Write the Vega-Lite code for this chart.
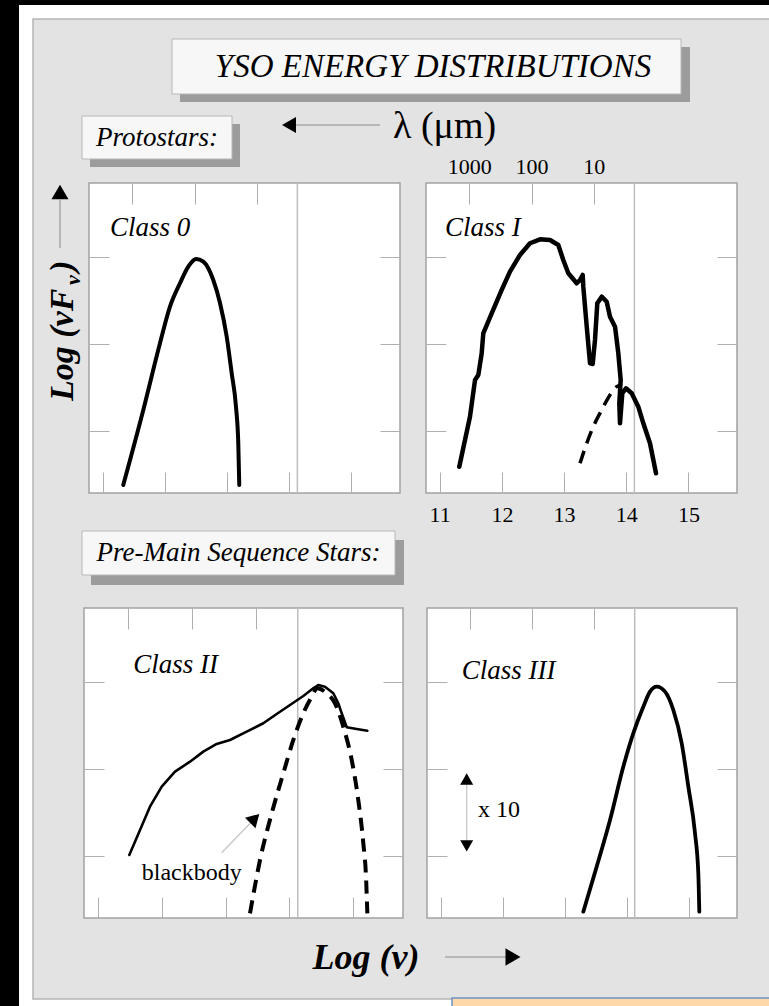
{
  "$schema": "https://vega.github.io/schema/vega-lite/v6.json",
  "width": 769,
  "height": 1006,
  "padding": 0,
  "autosize": {"type": "none"},
  "background": "white",
  "config": {
    "view": {"stroke": null},
    "font": "Liberation Serif",
    "axis": {"domain": false, "grid": false, "tickColor": "#b0b0b0", "tickWidth": 1, "labelFont": "Liberation Serif", "labelFontSize": 22, "labelColor": "#000000", "labelFlush": false}
  },
  "data": {"values": [{}]},
  "datasets": {
    "class0": [
      {"i": 1, "logNu": 11.331, "logNuFnu": -0.628},
      {"i": 2, "logNu": 11.653, "logNuFnu": 0.238},
      {"i": 3, "logNu": 11.921, "logNuFnu": 1.009},
      {"i": 4, "logNu": 12.082, "logNuFnu": 1.432},
      {"i": 5, "logNu": 12.243, "logNuFnu": 1.702},
      {"i": 6, "logNu": 12.376, "logNuFnu": 1.894},
      {"i": 7, "logNu": 12.5, "logNuFnu": 1.983},
      {"i": 8, "logNu": 12.618, "logNuFnu": 1.951},
      {"i": 9, "logNu": 12.778, "logNuFnu": 1.74},
      {"i": 10, "logNu": 12.886, "logNuFnu": 1.475},
      {"i": 11, "logNu": 12.994, "logNuFnu": 1.085},
      {"i": 12, "logNu": 13.074, "logNuFnu": 0.663},
      {"i": 13, "logNu": 13.143, "logNuFnu": 0.277},
      {"i": 14, "logNu": 13.18, "logNuFnu": -0.146},
      {"i": 15, "logNu": 13.196, "logNuFnu": -0.628}
    ],
    "class1": [
      {"series": "observed", "i": 1, "logNu": 11.315, "logNuFnu": -0.416},
      {"series": "observed", "i": 2, "logNu": 11.407, "logNuFnu": -0.108},
      {"series": "observed", "i": 3, "logNu": 11.487, "logNuFnu": 0.161},
      {"series": "observed", "i": 4, "logNu": 11.568, "logNuFnu": 0.585},
      {"series": "observed", "i": 5, "logNu": 11.621, "logNuFnu": 0.643},
      {"series": "observed", "i": 6, "logNu": 11.675, "logNuFnu": 0.893},
      {"series": "observed", "i": 7, "logNu": 11.701, "logNuFnu": 1.124},
      {"series": "observed", "i": 8, "logNu": 11.836, "logNuFnu": 1.355},
      {"series": "observed", "i": 9, "logNu": 11.997, "logNuFnu": 1.625},
      {"series": "observed", "i": 10, "logNu": 12.13, "logNuFnu": 1.836},
      {"series": "observed", "i": 11, "logNu": 12.291, "logNuFnu": 2.029},
      {"series": "observed", "i": 12, "logNu": 12.452, "logNuFnu": 2.164},
      {"series": "observed", "i": 13, "logNu": 12.613, "logNuFnu": 2.21},
      {"series": "observed", "i": 14, "logNu": 12.774, "logNuFnu": 2.202},
      {"series": "observed", "i": 15, "logNu": 12.907, "logNuFnu": 2.144},
      {"series": "observed", "i": 16, "logNu": 12.987, "logNuFnu": 1.971},
      {"series": "observed", "i": 17, "logNu": 13.068, "logNuFnu": 1.818},
      {"series": "observed", "i": 18, "logNu": 13.203, "logNuFnu": 1.702},
      {"series": "observed", "i": 19, "logNu": 13.256, "logNuFnu": 1.74},
      {"series": "observed", "i": 20, "logNu": 13.299, "logNuFnu": 1.798},
      {"series": "observed", "i": 21, "logNu": 13.309, "logNuFnu": 1.663},
      {"series": "observed", "i": 22, "logNu": 13.364, "logNuFnu": 1.201},
      {"series": "observed", "i": 23, "logNu": 13.417, "logNuFnu": 0.778},
      {"series": "observed", "i": 24, "logNu": 13.46, "logNuFnu": 0.77},
      {"series": "observed", "i": 25, "logNu": 13.497, "logNuFnu": 1.047},
      {"series": "observed", "i": 26, "logNu": 13.534, "logNuFnu": 1.471},
      {"series": "observed", "i": 27, "logNu": 13.605, "logNuFnu": 1.547},
      {"series": "observed", "i": 28, "logNu": 13.685, "logNuFnu": 1.489},
      {"series": "observed", "i": 29, "logNu": 13.738, "logNuFnu": 1.316},
      {"series": "observed", "i": 30, "logNu": 13.819, "logNuFnu": 1.201},
      {"series": "observed", "i": 31, "logNu": 13.872, "logNuFnu": 0.893},
      {"series": "observed", "i": 32, "logNu": 13.91, "logNuFnu": 0.585},
      {"series": "observed", "i": 33, "logNu": 13.888, "logNuFnu": 0.316},
      {"series": "observed", "i": 34, "logNu": 13.899, "logNuFnu": 0.085},
      {"series": "observed", "i": 35, "logNu": 13.936, "logNuFnu": 0.432},
      {"series": "observed", "i": 36, "logNu": 13.995, "logNuFnu": 0.489},
      {"series": "observed", "i": 37, "logNu": 14.087, "logNuFnu": 0.432},
      {"series": "observed", "i": 38, "logNu": 14.193, "logNuFnu": 0.277},
      {"series": "observed", "i": 39, "logNu": 14.274, "logNuFnu": 0.085},
      {"series": "observed", "i": 40, "logNu": 14.381, "logNuFnu": -0.146},
      {"series": "observed", "i": 41, "logNu": 14.478, "logNuFnu": -0.492},
      {"series": "blackbody", "i": 1, "logNu": 13.256, "logNuFnu": -0.377},
      {"series": "blackbody", "i": 2, "logNu": 13.364, "logNuFnu": -0.146},
      {"series": "blackbody", "i": 3, "logNu": 13.47, "logNuFnu": 0.046},
      {"series": "blackbody", "i": 4, "logNu": 13.605, "logNuFnu": 0.239},
      {"series": "blackbody", "i": 5, "logNu": 13.738, "logNuFnu": 0.412},
      {"series": "blackbody", "i": 6, "logNu": 13.846, "logNuFnu": 0.508},
      {"series": "blackbody", "i": 7, "logNu": 13.926, "logNuFnu": 0.527}
    ],
    "class2": [
      {"series": "observed", "i": 1, "logNu": 11.49, "logNuFnu": 0.008},
      {"series": "observed", "i": 2, "logNu": 11.658, "logNuFnu": 0.296},
      {"series": "observed", "i": 3, "logNu": 11.814, "logNuFnu": 0.566},
      {"series": "observed", "i": 4, "logNu": 11.998, "logNuFnu": 0.797},
      {"series": "observed", "i": 5, "logNu": 12.206, "logNuFnu": 0.97},
      {"series": "observed", "i": 6, "logNu": 12.441, "logNuFnu": 1.085},
      {"series": "observed", "i": 7, "logNu": 12.65, "logNuFnu": 1.201},
      {"series": "observed", "i": 8, "logNu": 12.86, "logNuFnu": 1.29},
      {"series": "observed", "i": 9, "logNu": 13.068, "logNuFnu": 1.336},
      {"series": "observed", "i": 10, "logNu": 13.33, "logNuFnu": 1.432},
      {"series": "observed", "i": 11, "logNu": 13.59, "logNuFnu": 1.529},
      {"series": "observed", "i": 12, "logNu": 13.8, "logNuFnu": 1.636},
      {"series": "observed", "i": 13, "logNu": 14.009, "logNuFnu": 1.74},
      {"series": "observed", "i": 14, "logNu": 14.217, "logNuFnu": 1.844},
      {"series": "observed", "i": 15, "logNu": 14.374, "logNuFnu": 1.933},
      {"series": "observed", "i": 16, "logNu": 14.452, "logNuFnu": 1.971},
      {"series": "observed", "i": 17, "logNu": 14.557, "logNuFnu": 1.951},
      {"series": "observed", "i": 18, "logNu": 14.688, "logNuFnu": 1.875},
      {"series": "observed", "i": 19, "logNu": 14.766, "logNuFnu": 1.76},
      {"series": "observed", "i": 20, "logNu": 14.819, "logNuFnu": 1.644},
      {"series": "observed", "i": 21, "logNu": 14.898, "logNuFnu": 1.483},
      {"series": "observed", "i": 22, "logNu": 15.054, "logNuFnu": 1.463},
      {"series": "observed", "i": 23, "logNu": 15.221, "logNuFnu": 1.443},
      {"series": "blackbody", "i": 1, "logNu": 13.382, "logNuFnu": -0.666},
      {"series": "blackbody", "i": 2, "logNu": 13.539, "logNuFnu": -0.05},
      {"series": "blackbody", "i": 3, "logNu": 13.722, "logNuFnu": 0.489},
      {"series": "blackbody", "i": 4, "logNu": 13.904, "logNuFnu": 0.951},
      {"series": "blackbody", "i": 5, "logNu": 14.061, "logNuFnu": 1.336},
      {"series": "blackbody", "i": 6, "logNu": 14.217, "logNuFnu": 1.644},
      {"series": "blackbody", "i": 7, "logNu": 14.349, "logNuFnu": 1.836},
      {"series": "blackbody", "i": 8, "logNu": 14.437, "logNuFnu": 1.933},
      {"series": "blackbody", "i": 9, "logNu": 14.584, "logNuFnu": 1.875},
      {"series": "blackbody", "i": 10, "logNu": 14.714, "logNuFnu": 1.76},
      {"series": "blackbody", "i": 11, "logNu": 14.844, "logNuFnu": 1.49},
      {"series": "blackbody", "i": 12, "logNu": 14.976, "logNuFnu": 1.105},
      {"series": "blackbody", "i": 13, "logNu": 15.079, "logNuFnu": 0.643},
      {"series": "blackbody", "i": 14, "logNu": 15.158, "logNuFnu": 0.143},
      {"series": "blackbody", "i": 15, "logNu": 15.2, "logNuFnu": -0.243},
      {"series": "blackbody", "i": 16, "logNu": 15.221, "logNuFnu": -0.666}
    ],
    "class3": [
      {"i": 1, "logNu": 13.301, "logNuFnu": -0.647},
      {"i": 2, "logNu": 13.517, "logNuFnu": -0.127},
      {"i": 3, "logNu": 13.732, "logNuFnu": 0.412},
      {"i": 4, "logNu": 13.946, "logNuFnu": 1.027},
      {"i": 5, "logNu": 14.107, "logNuFnu": 1.413},
      {"i": 6, "logNu": 14.269, "logNuFnu": 1.72},
      {"i": 7, "logNu": 14.377, "logNuFnu": 1.894},
      {"i": 8, "logNu": 14.485, "logNuFnu": 1.951},
      {"i": 9, "logNu": 14.619, "logNuFnu": 1.894},
      {"i": 10, "logNu": 14.753, "logNuFnu": 1.682},
      {"i": 11, "logNu": 14.888, "logNuFnu": 1.298},
      {"i": 12, "logNu": 14.995, "logNuFnu": 0.797},
      {"i": 13, "logNu": 15.103, "logNuFnu": 0.258},
      {"i": 14, "logNu": 15.156, "logNuFnu": -0.204},
      {"i": 15, "logNu": 15.172, "logNuFnu": -0.647}
    ]
  },
  "resolve": {"scale": {"x": "independent", "y": "independent"}},
  "layer": [
    {
      "layer": [
        {"mark": {"type": "rect", "fill": "#000000"},
         "encoding": {"x": {"datum": 0, "type": "quantitative", "scale": {"domain": [0, 769], "range": [0, 769], "nice": false, "zero": false}, "axis": null}, "x2": {"datum": 19},
                      "y": {"datum": 0, "type": "quantitative", "scale": {"domain": [0, 1006], "range": [0, 1006], "nice": false, "zero": false}, "axis": null}, "y2": {"datum": 1006}}},
        {"mark": {"type": "rect", "fill": "#000000"},
         "encoding": {"x": {"datum": 0, "type": "quantitative", "axis": null}, "x2": {"datum": 769}, "y": {"datum": 0, "type": "quantitative", "axis": null}, "y2": {"datum": 5}}},
        {"mark": {"type": "rect", "fill": "#e3e3e3", "stroke": "#b5b5b5", "strokeWidth": 1.5},
         "encoding": {"x": {"datum": 33, "type": "quantitative", "axis": null}, "x2": {"datum": 775}, "y": {"datum": 19, "type": "quantitative", "axis": null}, "y2": {"datum": 999}}},
        {"mark": {"type": "rect", "fill": "#fdd9a9", "stroke": "#6d93c7", "strokeWidth": 1.5},
         "encoding": {"x": {"datum": 452, "type": "quantitative", "axis": null}, "x2": {"datum": 780}, "y": {"datum": 998, "type": "quantitative", "axis": null}, "y2": {"datum": 1012}}},
        {"mark": {"type": "rect", "fill": "#9c9c9c"},
         "encoding": {"x": {"datum": 180, "type": "quantitative", "axis": null}, "x2": {"datum": 690}, "y": {"datum": 47, "type": "quantitative", "axis": null}, "y2": {"datum": 102}}},
        {"mark": {"type": "rect", "fill": "#f7f7f7", "stroke": "#b8b8b8", "strokeWidth": 1},
         "encoding": {"x": {"datum": 172, "type": "quantitative", "axis": null}, "x2": {"datum": 681}, "y": {"datum": 39, "type": "quantitative", "axis": null}, "y2": {"datum": 94}}},
        {"mark": {"type": "text", "font": "Liberation Serif", "fontSize": 33, "fontStyle": "italic", "align": "center", "baseline": "middle", "color": "#000000"},
         "encoding": {"x": {"datum": 433, "type": "quantitative", "axis": null}, "y": {"datum": 67, "type": "quantitative", "axis": null}, "text": {"value": "YSO ENERGY DISTRIBUTIONS"}}},
        {"mark": {"type": "rect", "fill": "#9c9c9c"},
         "encoding": {"x": {"datum": 90, "type": "quantitative", "axis": null}, "x2": {"datum": 240}, "y": {"datum": 124, "type": "quantitative", "axis": null}, "y2": {"datum": 167}}},
        {"mark": {"type": "rect", "fill": "#f7f7f7", "stroke": "#b8b8b8", "strokeWidth": 1},
         "encoding": {"x": {"datum": 82, "type": "quantitative", "axis": null}, "x2": {"datum": 232}, "y": {"datum": 116, "type": "quantitative", "axis": null}, "y2": {"datum": 159}}},
        {"mark": {"type": "text", "font": "Liberation Serif", "fontSize": 27, "fontStyle": "italic", "align": "center", "baseline": "middle", "color": "#000000"},
         "encoding": {"x": {"datum": 157, "type": "quantitative", "axis": null}, "y": {"datum": 138, "type": "quantitative", "axis": null}, "text": {"value": "Protostars:"}}},
        {"mark": {"type": "rect", "fill": "#9c9c9c"},
         "encoding": {"x": {"datum": 91, "type": "quantitative", "axis": null}, "x2": {"datum": 404}, "y": {"datum": 540, "type": "quantitative", "axis": null}, "y2": {"datum": 585}}},
        {"mark": {"type": "rect", "fill": "#f7f7f7", "stroke": "#b8b8b8", "strokeWidth": 1},
         "encoding": {"x": {"datum": 82, "type": "quantitative", "axis": null}, "x2": {"datum": 395}, "y": {"datum": 531, "type": "quantitative", "axis": null}, "y2": {"datum": 575}}},
        {"mark": {"type": "text", "font": "Liberation Serif", "fontSize": 27, "fontStyle": "italic", "align": "center", "baseline": "middle", "color": "#000000"},
         "encoding": {"x": {"datum": 238.5, "type": "quantitative", "axis": null}, "y": {"datum": 553, "type": "quantitative", "axis": null}, "text": {"value": "Pre-Main Sequence Stars:"}}},
        {"mark": {"type": "rule", "color": "#8c8c8c", "strokeWidth": 1},
         "encoding": {"x": {"datum": 296, "type": "quantitative", "axis": null}, "x2": {"datum": 380}, "y": {"datum": 125, "type": "quantitative", "axis": null}}},
        {"mark": {"type": "point", "shape": "triangle-left", "filled": true, "color": "#000000", "size": 260, "opacity": 1},
         "encoding": {"x": {"datum": 289, "type": "quantitative", "axis": null}, "y": {"datum": 125, "type": "quantitative", "axis": null}}},
        {"mark": {"type": "text", "font": "Liberation Serif", "fontSize": 38, "align": "left", "baseline": "middle", "color": "#000000"},
         "encoding": {"x": {"datum": 393, "type": "quantitative", "axis": null}, "y": {"datum": 127, "type": "quantitative", "axis": null}, "text": {"value": "λ (μm)"}}},
        {"mark": {"type": "text", "font": "Liberation Serif", "fontSize": 36, "fontStyle": "italic", "fontWeight": "bold", "align": "center", "baseline": "middle", "color": "#000000"},
         "encoding": {"x": {"datum": 366, "type": "quantitative", "axis": null}, "y": {"datum": 958, "type": "quantitative", "axis": null}, "text": {"value": "Log (ν)"}}},
        {"mark": {"type": "rule", "color": "#8c8c8c", "strokeWidth": 1},
         "encoding": {"x": {"datum": 445, "type": "quantitative", "axis": null}, "x2": {"datum": 506}, "y": {"datum": 957, "type": "quantitative", "axis": null}}},
        {"mark": {"type": "point", "shape": "triangle-right", "filled": true, "color": "#000000", "size": 300, "opacity": 1},
         "encoding": {"x": {"datum": 513, "type": "quantitative", "axis": null}, "y": {"datum": 957, "type": "quantitative", "axis": null}}},
        {"mark": {"type": "rule", "color": "#8c8c8c", "strokeWidth": 1},
         "encoding": {"x": {"datum": 60, "type": "quantitative", "axis": null}, "y": {"datum": 200, "type": "quantitative", "axis": null}, "y2": {"datum": 248}}},
        {"mark": {"type": "point", "shape": "triangle-up", "filled": true, "color": "#000000", "size": 290, "opacity": 1},
         "encoding": {"x": {"datum": 60, "type": "quantitative", "axis": null}, "y": {"datum": 192, "type": "quantitative", "axis": null}}},
        {"mark": {"type": "text", "font": "Liberation Serif", "fontSize": 34, "fontStyle": "italic", "fontWeight": "bold", "align": "left", "baseline": "alphabetic", "angle": 270, "color": "#000000"},
         "encoding": {"x": {"datum": 73, "type": "quantitative", "axis": null}, "y": {"datum": 401, "type": "quantitative", "axis": null}, "text": {"value": "Log (νF"}}},
        {"mark": {"type": "text", "font": "Liberation Serif", "fontSize": 22, "fontStyle": "italic", "fontWeight": "bold", "align": "left", "baseline": "alphabetic", "angle": 270, "color": "#000000"},
         "encoding": {"x": {"datum": 80, "type": "quantitative", "axis": null}, "y": {"datum": 285, "type": "quantitative", "axis": null}, "text": {"value": "ν"}}},
        {"mark": {"type": "text", "font": "Liberation Serif", "fontSize": 34, "fontStyle": "italic", "fontWeight": "bold", "align": "left", "baseline": "alphabetic", "angle": 270, "color": "#000000"},
         "encoding": {"x": {"datum": 73, "type": "quantitative", "axis": null}, "y": {"datum": 272, "type": "quantitative", "axis": null}, "text": {"value": ")"}}}
      ]
    },
    {
      "layer": [
        {"mark": {"type": "rect", "fill": "#ffffff", "stroke": "#a3a3a3", "strokeWidth": 1.5},
         "encoding": {
           "x": {"datum": 10.78, "type": "quantitative", "scale": {"domain": [10.78, 15.78], "range": [89, 400], "nice": false, "zero": false},
                 "axis": {"orient": "bottom", "offset": -513, "values": [11, 12, 13, 14, 15], "tickSize": -21, "labels": false, "title": null, "zindex": 1}},
           "x2": {"datum": 15.78},
           "y": {"datum": -0.72, "type": "quantitative", "scale": {"domain": [-0.72, 2.86], "range": [493, 183], "nice": false, "zero": false},
                 "axis": {"orient": "left", "offset": -89, "values": [0, 1, 2], "tickSize": -20, "labels": false, "title": null, "zindex": 1}},
           "y2": {"datum": 2.86}}},
        {"mark": {"type": "rule", "color": "#bdbdbd", "strokeWidth": 1.5},
         "encoding": {
           "x": {"datum": 14.13, "type": "quantitative", "axis": {"orient": "top", "offset": -183, "values": [11.477, 12.477, 13.477], "tickSize": -21, "labels": false, "title": null, "zindex": 1}},
           "y": {"datum": -0.72, "type": "quantitative", "axis": {"orient": "right", "offset": -369, "values": [0, 1, 2], "tickSize": -20, "labels": false, "title": null, "zindex": 1}},
           "y2": {"datum": 2.86}}},
        {"data": {"name": "class0"},
         "mark": {"type": "line", "color": "#000000", "strokeWidth": 4, "interpolate": "monotone", "strokeCap": "round"},
         "encoding": {"x": {"field": "logNu", "type": "quantitative", "axis": null}, "y": {"field": "logNuFnu", "type": "quantitative", "axis": null}, "order": {"field": "i", "type": "quantitative"}}},
        {"mark": {"type": "text", "font": "Liberation Serif", "fontSize": 27, "fontStyle": "italic", "align": "left", "baseline": "middle", "color": "#000000"},
         "encoding": {"x": {"datum": 11.118, "type": "quantitative", "axis": null}, "y": {"datum": 2.341, "type": "quantitative", "axis": null}, "text": {"value": "Class 0"}}}
      ]
    },
    {
      "layer": [
        {"mark": {"type": "rect", "fill": "#ffffff", "stroke": "#a3a3a3", "strokeWidth": 1.5},
         "encoding": {
           "x": {"datum": 10.78, "type": "quantitative", "scale": {"domain": [10.78, 15.78], "range": [426, 737], "nice": false, "zero": false},
                 "axis": {"orient": "bottom", "offset": -513, "values": [11, 12, 13, 14, 15], "tickSize": -21, "labels": true, "labelPadding": 32, "labelBaseline": "top", "title": null, "zindex": 1}},
           "x2": {"datum": 15.78},
           "y": {"datum": -0.72, "type": "quantitative", "scale": {"domain": [-0.72, 2.86], "range": [493, 183], "nice": false, "zero": false},
                 "axis": {"orient": "left", "offset": -426, "values": [0, 1, 2], "tickSize": -20, "labels": false, "title": null, "zindex": 1}},
           "y2": {"datum": 2.86}}},
        {"mark": {"type": "rule", "color": "#bdbdbd", "strokeWidth": 1.5},
         "encoding": {
           "x": {"datum": 14.13, "type": "quantitative", "axis": {"orient": "top", "offset": -183, "values": [11.477, 12.477, 13.477], "tickSize": -21, "labels": true, "labelPadding": 26, "labelExpr": "datum.value < 12 ? '1000' : datum.value < 13 ? '100' : '10'", "title": null, "zindex": 1}},
           "y": {"datum": -0.72, "type": "quantitative", "axis": {"orient": "right", "offset": -32, "values": [0, 1, 2], "tickSize": -20, "labels": false, "title": null, "zindex": 1}},
           "y2": {"datum": 2.86}}},
        {"data": {"name": "class1"},
         "transform": [{"filter": "datum.series === 'observed'"}],
         "mark": {"type": "line", "color": "#000000", "strokeWidth": 4.5, "interpolate": "linear", "strokeCap": "round", "strokeJoin": "round"},
         "encoding": {"x": {"field": "logNu", "type": "quantitative", "axis": null}, "y": {"field": "logNuFnu", "type": "quantitative", "axis": null}, "order": {"field": "i", "type": "quantitative"}}},
        {"data": {"name": "class1"},
         "transform": [{"filter": "datum.series === 'blackbody'"}],
         "mark": {"type": "line", "color": "#000000", "strokeWidth": 3.5, "interpolate": "monotone", "strokeDash": [13, 8]},
         "encoding": {"x": {"field": "logNu", "type": "quantitative", "axis": null}, "y": {"field": "logNuFnu", "type": "quantitative", "axis": null}, "order": {"field": "i", "type": "quantitative"}}},
        {"mark": {"type": "text", "font": "Liberation Serif", "fontSize": 27, "fontStyle": "italic", "align": "left", "baseline": "middle", "color": "#000000"},
         "encoding": {"x": {"datum": 11.085, "type": "quantitative", "axis": null}, "y": {"datum": 2.337, "type": "quantitative", "axis": null}, "text": {"value": "Class I"}}}
      ]
    },
    {
      "layer": [
        {"mark": {"type": "rect", "fill": "#ffffff", "stroke": "#a3a3a3", "strokeWidth": 1.5},
         "encoding": {
           "x": {"datum": 10.78, "type": "quantitative", "scale": {"domain": [10.78, 15.78], "range": [84, 403], "nice": false, "zero": false},
                 "axis": {"orient": "bottom", "offset": -88, "values": [11, 12, 13, 14, 15], "tickSize": -21, "labels": false, "title": null, "zindex": 1}},
           "x2": {"datum": 15.78},
           "y": {"datum": -0.72, "type": "quantitative", "scale": {"domain": [-0.72, 2.86], "range": [918, 608], "nice": false, "zero": false},
                 "axis": {"orient": "left", "offset": -84, "values": [0, 1, 2], "tickSize": -20, "labels": false, "title": null, "zindex": 1}},
           "y2": {"datum": 2.86}}},
        {"mark": {"type": "rule", "color": "#bdbdbd", "strokeWidth": 1.5},
         "encoding": {
           "x": {"datum": 14.13, "type": "quantitative", "axis": {"orient": "top", "offset": -608, "values": [11.477, 12.477, 13.477], "tickSize": -21, "labels": false, "title": null, "zindex": 1}},
           "y": {"datum": -0.72, "type": "quantitative", "axis": {"orient": "right", "offset": -366, "values": [0, 1, 2], "tickSize": -20, "labels": false, "title": null, "zindex": 1}},
           "y2": {"datum": 2.86}}},
        {"data": {"name": "class2"},
         "transform": [{"filter": "datum.series === 'observed'"}],
         "mark": {"type": "line", "color": "#000000", "strokeWidth": 2.6, "interpolate": "linear", "strokeCap": "round", "strokeJoin": "round"},
         "encoding": {"x": {"field": "logNu", "type": "quantitative", "axis": null}, "y": {"field": "logNuFnu", "type": "quantitative", "axis": null}, "order": {"field": "i", "type": "quantitative"}}},
        {"data": {"name": "class2"},
         "transform": [{"filter": "datum.series === 'blackbody'"}],
         "mark": {"type": "line", "color": "#000000", "strokeWidth": 4, "interpolate": "monotone", "strokeDash": [13, 8]},
         "encoding": {"x": {"field": "logNu", "type": "quantitative", "axis": null}, "y": {"field": "logNuFnu", "type": "quantitative", "axis": null}, "order": {"field": "i", "type": "quantitative"}}},
        {"mark": {"type": "rule", "color": "#c4c4c4", "strokeWidth": 1.2},
         "encoding": {"x": {"datum": 12.938, "type": "quantitative", "axis": null}, "y": {"datum": 0.034, "type": "quantitative", "axis": null}, "x2": {"datum": 13.434}, "y2": {"datum": 0.412}}},
        {"mark": {"type": "point", "shape": "triangle-up", "filled": true, "color": "#000000", "size": 220, "angle": 45, "opacity": 1},
         "encoding": {"x": {"datum": 13.457, "type": "quantitative", "axis": null}, "y": {"datum": 0.429, "type": "quantitative", "axis": null}}},
        {"mark": {"type": "text", "font": "Liberation Serif", "fontSize": 24, "align": "center", "baseline": "middle", "color": "#000000"},
         "encoding": {"x": {"datum": 12.468, "type": "quantitative", "axis": null}, "y": {"datum": -0.204, "type": "quantitative", "axis": null}, "text": {"value": "blackbody"}}},
        {"mark": {"type": "text", "font": "Liberation Serif", "fontSize": 27, "fontStyle": "italic", "align": "left", "baseline": "middle", "color": "#000000"},
         "encoding": {"x": {"datum": 11.553, "type": "quantitative", "axis": null}, "y": {"datum": 2.202, "type": "quantitative", "axis": null}, "text": {"value": "Class II"}}}
      ]
    },
    {
      "layer": [
        {"mark": {"type": "rect", "fill": "#ffffff", "stroke": "#a3a3a3", "strokeWidth": 1.5},
         "encoding": {
           "x": {"datum": 10.78, "type": "quantitative", "scale": {"domain": [10.78, 15.78], "range": [427, 737], "nice": false, "zero": false},
                 "axis": {"orient": "bottom", "offset": -88, "values": [11, 12, 13, 14, 15], "tickSize": -21, "labels": false, "title": null, "zindex": 1}},
           "x2": {"datum": 15.78},
           "y": {"datum": -0.72, "type": "quantitative", "scale": {"domain": [-0.72, 2.86], "range": [918, 608], "nice": false, "zero": false},
                 "axis": {"orient": "left", "offset": -427, "values": [0, 1, 2], "tickSize": -20, "labels": false, "title": null, "zindex": 1}},
           "y2": {"datum": 2.86}}},
        {"mark": {"type": "rule", "color": "#bdbdbd", "strokeWidth": 1.5},
         "encoding": {
           "x": {"datum": 14.13, "type": "quantitative", "axis": {"orient": "top", "offset": -608, "values": [11.477, 12.477, 13.477], "tickSize": -21, "labels": false, "title": null, "zindex": 1}},
           "y": {"datum": -0.72, "type": "quantitative", "axis": {"orient": "right", "offset": -32, "values": [0, 1, 2], "tickSize": -20, "labels": false, "title": null, "zindex": 1}},
           "y2": {"datum": 2.86}}},
        {"data": {"name": "class3"},
         "mark": {"type": "line", "color": "#000000", "strokeWidth": 3.8, "interpolate": "monotone", "strokeCap": "round"},
         "encoding": {"x": {"field": "logNu", "type": "quantitative", "axis": null}, "y": {"field": "logNuFnu", "type": "quantitative", "axis": null}, "order": {"field": "i", "type": "quantitative"}}},
        {"mark": {"type": "rule", "color": "#c4c4c4", "strokeWidth": 1.2},
         "encoding": {"x": {"datum": 11.42, "type": "quantitative", "axis": null}, "y": {"datum": 0.16, "type": "quantitative", "axis": null}, "y2": {"datum": 0.84}}},
        {"mark": {"type": "point", "shape": "triangle-up", "filled": true, "color": "#000000", "size": 170, "opacity": 1},
         "encoding": {"x": {"datum": 11.42, "type": "quantitative", "axis": null}, "y": {"datum": 0.885, "type": "quantitative", "axis": null}}},
        {"mark": {"type": "point", "shape": "triangle-down", "filled": true, "color": "#000000", "size": 170, "opacity": 1},
         "encoding": {"x": {"datum": 11.42, "type": "quantitative", "axis": null}, "y": {"datum": 0.112, "type": "quantitative", "axis": null}}},
        {"mark": {"type": "text", "font": "Liberation Serif", "fontSize": 24, "align": "left", "baseline": "middle", "color": "#000000"},
         "encoding": {"x": {"datum": 11.603, "type": "quantitative", "axis": null}, "y": {"datum": 0.527, "type": "quantitative", "axis": null}, "text": {"value": "x 10"}}},
        {"mark": {"type": "text", "font": "Liberation Serif", "fontSize": 27, "fontStyle": "italic", "align": "left", "baseline": "middle", "color": "#000000"},
         "encoding": {"x": {"datum": 11.34, "type": "quantitative", "axis": null}, "y": {"datum": 2.136, "type": "quantitative", "axis": null}, "text": {"value": "Class III"}}}
      ]
    }
  ]
}
